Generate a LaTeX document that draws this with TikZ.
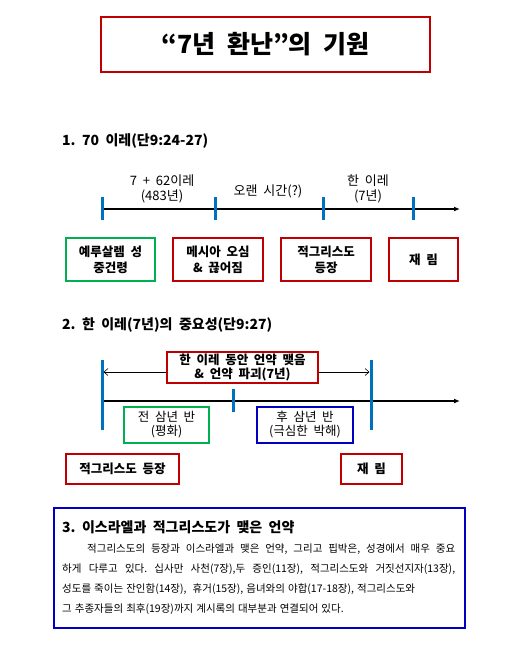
\documentclass[tikz,border=0pt]{standalone}
\usepackage{fontspec}
\setmainfont{Noto Sans CJK KR}[WordSpace=2]
\newfontfamily\parafont{Noto Sans CJK KR}[WordSpace=1.3]
\usetikzlibrary{arrows.meta}
\frenchspacing
\definecolor{boxred}{HTML}{C00000}
\definecolor{boxgreen}{HTML}{00B050}
\definecolor{boxblue}{HTML}{0000C0}
\definecolor{tickblue}{HTML}{0070C0}
\tikzset{
  redbox/.style={draw=boxred, line width=2pt, align=center, inner sep=0pt},
  greenbox/.style={draw=boxgreen, line width=2pt, align=center, inner sep=0pt},
  bluebox/.style={draw=boxblue, line width=2pt, align=center, inner sep=0pt},
  boldtext/.style={font=\bfseries\fontsize{12.5}{16}\selectfont},
  plaintext/.style={font=\fontsize{13}{15}\selectfont, align=center},
  heading/.style={font=\bfseries\fontsize{14}{16}\selectfont, anchor=west, inner sep=0pt},
  tickline/.style={draw=tickblue, line width=3pt},
  axis/.style={line width=1.5pt, -{Latex[length=6pt,width=5pt]}},
  span/.style={line width=0.6pt}
}
\begin{document}
\begin{tikzpicture}[x=1pt,y=-1pt]
  \useasboundingbox (0,0) rectangle (518,651);

  \node[redbox, minimum width=329pt, minimum height=55pt,
        font=\bfseries\fontsize{25}{28}\selectfont] (title) at (265.5,44.5) {“7년 환난”의 기원};

  \node[heading] (h1) at (62,141) {1. 70 이레(단9:24-27)};

  \coordinate (a1) at (102,209);
  \coordinate (b1) at (460,209);
  \draw[axis] (a1) -- (b1);
  \foreach \x in {102,215,323,413}
    \draw[tickline] (\x,197) -- (\x,220);

  \node[plaintext] (t1) at (162,189) {7 + 62이레\\(483년)};
  \node[plaintext] (t2) at (268,191) {오랜 시간(?)};
  \node[plaintext] (t3) at (368,189) {한 이레\\(7년)};

  \node[greenbox, boldtext, minimum width=89pt, minimum height=43pt] (jer) at (110.5,259.5) {예루살렘 성\\중건령};
  \node[redbox, boldtext, minimum width=90pt, minimum height=43pt] (mes) at (218,259.5) {메시아 오심\\\& 끊어짐};
  \node[redbox, boldtext, minimum width=90pt, minimum height=43pt] (anti) at (326,259.5) {적그리스도\\등장};
  \node[redbox, boldtext, minimum width=69pt, minimum height=43pt] (ret) at (423.5,259.5) {재 림};

  \node[heading] (h2) at (62,325) {2. 한 이레(7년)의 중요성(단9:27)};

  \coordinate (a2) at (102,401);
  \coordinate (b2) at (460,401);
  \draw[axis] (a2) -- (b2);
  \draw[tickline] (102,360) -- (102,430);
  \draw[tickline] (233,389) -- (233,412);
  \draw[tickline] (371,360) -- (371,430);

  \node[redbox, font=\bfseries\fontsize{12.5}{14}\selectfont, minimum width=151pt, minimum height=31pt, fill=white] (cov) at (242.5,367.5) {한 이레 동안 언약 맺음\\\& 언약 파괴(7년)};
  \coordinate (l2) at (103.5,372);
  \coordinate (r2) at (369.5,372);
  \draw[span, {Straight Barb[length=4pt,width=7pt]}-] (l2) -- (l2 -| cov.west);
  \draw[span, -{Straight Barb[length=4pt,width=7pt]}] (r2 -| cov.east) -- (r2);

  \node[greenbox, plaintext, font=\fontsize{12.5}{14}\selectfont, minimum width=85pt, minimum height=36pt] (peace) at (166.5,425) {전 삼년 반\\(평화)};
  \node[bluebox, plaintext, font=\fontsize{12.5}{14}\selectfont, minimum width=96pt, minimum height=36pt] (trib) at (305,425) {후 삼년 반\\(극심한 박해)};

  \node[redbox, boldtext, minimum width=113pt, minimum height=30pt] (anti2) at (122.5,469) {적그리스도 등장};
  \node[redbox, boldtext, minimum width=61pt, minimum height=30pt] (ret2) at (371.5,469) {재 림};

  \draw[draw=boxblue, line width=2pt] (54,508) rectangle (465,628);
  \node[heading] (h3) at (62,527) {3. 이스라엘과 적그리스도가 맺은 언약};
  \node[anchor=north west, inner sep=0pt, align=left,
        font=\parafont\fontsize{10.5}{20}\selectfont] (para) at (62,544)
    {\makebox[393pt][s]{\hspace*{25pt}적그리스도의 등장과 이스라엘과 맺은 언약, 그리고 핍박은, 성경에서 매우 중요}\\
     \makebox[393pt][s]{하게 다루고 있다. 십사만 사천(7장),두 증인(11장), 적그리스도와 거짓선지자(13장),}\\
     성도를 죽이는 잔인함(14장), \ 휴거(15장), 음녀와의 야합(17-18장), 적그리스도와\\
     그 추종자들의 최후(19장)까지 계시록의 대부분과 연결되어 있다.};
\end{tikzpicture}
\end{document}
